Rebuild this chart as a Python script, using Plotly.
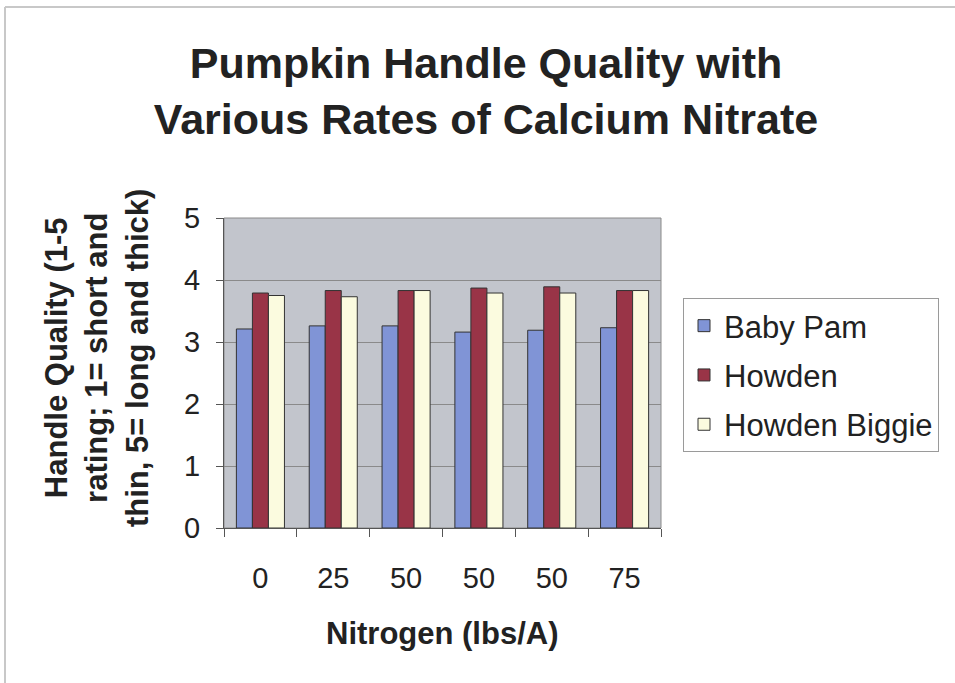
import plotly.graph_objects as go

categories = ["0", "25", "50", "50", "50", "75"]
baby_pam = [3.21, 3.26, 3.26, 3.16, 3.19, 3.23]
howden = [3.79, 3.83, 3.83, 3.87, 3.89, 3.83]
howden_biggie = [3.75, 3.73, 3.83, 3.79, 3.79, 3.83]
series_names = ["Baby Pam", "Howden", "Howden Biggie"]
y_ticks = [0, 1, 2, 3, 4, 5]

colors = ["#8094d6", "#993447", "#fbfbdf"]
positions = list(range(len(categories)))
FONT = "Liberation Sans, Arial, sans-serif"

W, H = 955, 683
L, R, T, B = 224, 294, 218, 155
pw, ph = W - L - R, H - T - B


def px_x(x):
    return (x - L) / pw


def px_y(y):
    return (H - B - y) / ph


fig = go.Figure()
for i, (name, vals) in enumerate(zip(series_names, [baby_pam, howden, howden_biggie])):
    fig.add_trace(go.Bar(
        x=positions, y=vals, name=name, legendgroup=name,
        marker=dict(color=colors[i], line=dict(color="#333333", width=1)),
    ))

fig.update_layout(
    width=W, height=H,
    margin=dict(l=L, r=R, t=T, b=B),
    paper_bgcolor="white",
    plot_bgcolor="#c2c5cc",
    barmode="group", bargap=0.34, bargroupgap=0,
    font=dict(family=FONT, color="#222222"),
    title=dict(
        text="<b>Pumpkin Handle Quality with<br>Various Rates of Calcium Nitrate</b>",
        x=486 / W, xanchor="center", xref="container",
        y=1 - 78 / H, yanchor="middle", yref="container",
        font=dict(size=43, family=FONT, color="#222222"),
    ),
    showlegend=True,
    legend=dict(
        xref="container", yref="container",
        x=683 / W, y=1 - 298 / H, xanchor="left", yanchor="top",
        bgcolor="white", bordercolor="#9a9a9a", borderwidth=1,
        font=dict(size=31, family=FONT, color="#222222"),
        tracegroupgap=6, traceorder="grouped",
    ),
    xaxis=dict(
        range=[-0.5, len(categories) - 0.5],
        tickmode="array", tickvals=positions, ticktext=categories,
        ticks="", showgrid=False, zeroline=False,
        showline=True, linecolor="#555555", linewidth=1,
        tickfont=dict(size=29, family=FONT, color="#222222"),
        ticklabelstandoff=24,
        minor=dict(tickmode="array",
                   tickvals=[p - 0.5 for p in positions] + [positions[-1] + 0.5],
                   ticks="outside", ticklen=8, tickcolor="#555555", showgrid=False),
    ),
    yaxis=dict(
        range=[0, 5], tickmode="array", tickvals=y_ticks,
        ticks="outside", ticklen=7, tickcolor="#555555",
        showgrid=True, gridcolor="#8a8a8a", gridwidth=1,
        zeroline=False, showline=True, linecolor="#555555", linewidth=1,
        mirror=False,
        tickfont=dict(size=29, family=FONT, color="#222222"),
        ticklabelstandoff=10,
    ),
    annotations=[
        dict(text="<b>Nitrogen (lbs/A)</b>", xref="paper", yref="paper",
             x=0.5, y=px_y(633), xanchor="center", yanchor="middle",
             showarrow=False, font=dict(size=31, family=FONT, color="#222222")),
        dict(text="<b>Handle Quality (1-5<br>rating; 1= short and<br>thin, 5= long and thick)</b>",
             xref="paper", yref="paper", x=px_x(97), y=px_y(358),
             xanchor="center", yanchor="middle", textangle=-90,
             showarrow=False, font=dict(size=31, family=FONT, color="#222222")),
    ],
    shapes=[
        dict(type="line", xref="paper", yref="paper",
             x0=px_x(5), x1=px_x(955), y0=px_y(7), y1=px_y(7),
             line=dict(color="#c8c8c8", width=2)),
        dict(type="line", xref="paper", yref="paper",
             x0=px_x(5), x1=px_x(5), y0=px_y(7), y1=px_y(683),
             line=dict(color="#c8c8c8", width=2)),
        dict(type="rect", xref="paper", yref="paper", x0=0, x1=1, y0=0, y1=1,
             line=dict(color="#8a8a8a", width=1), layer="below"),
    ],
)

fig.write_html(
    "out.html",
    config={"displayModeBar": False},
    post_script="document.body.style.margin='0';document.body.style.overflow='hidden';",
)
